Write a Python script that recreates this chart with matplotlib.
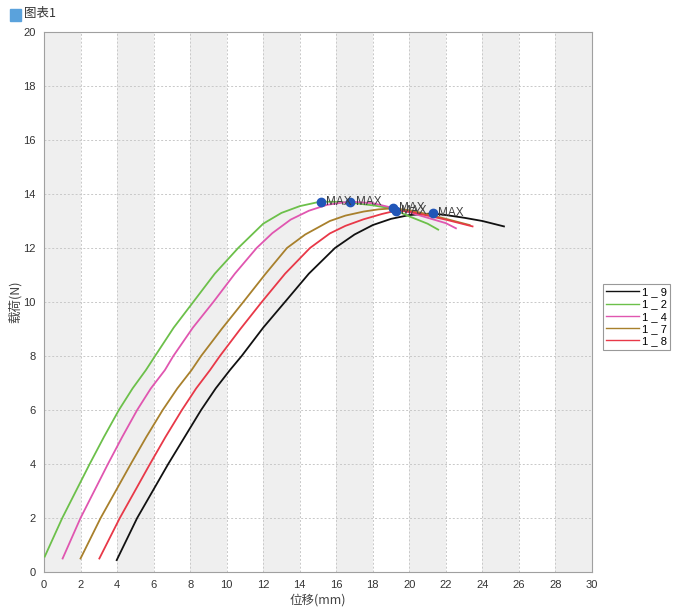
import numpy as np
import matplotlib.pyplot as plt

# Series data (displacement mm, load N)
labels = ["1 _ 9", "1 _ 2", "1 _ 4", "1 _ 7", "1 _ 8"]
colors = ["#111111", "#6cc04a", "#e056b0", "#a8802c", "#e83848"]

x_19 = [3.98, 5.1, 6.8, 7.7, 8.6, 9.4, 10.18, 10.82, 12.0, 13.19, 14.5, 15.93, 17.0, 18.0, 19.0, 20.0, 21.27, 22.0, 23.0, 24.0, 25.18]
y_19 = [0.44, 2.0, 4.0, 5.0, 6.0, 6.8, 7.48, 8.0, 9.05, 10.0, 11.05, 12.0, 12.5, 12.85, 13.08, 13.22, 13.28, 13.22, 13.12, 13.0, 12.8]

x_12 = [0.04, 1.0, 2.5, 3.28, 4.1, 4.85, 5.58, 6.08, 7.1, 8.17, 9.35, 10.63, 12.0, 13.0, 14.0, 15.14, 16.0, 17.0, 18.0, 19.0, 20.0, 21.0, 21.58]
y_12 = [0.57, 2.0, 4.0, 5.0, 6.0, 6.8, 7.48, 8.0, 9.05, 10.0, 11.05, 12.0, 12.9, 13.3, 13.55, 13.72, 13.71, 13.66, 13.58, 13.47, 13.17, 12.9, 12.68]

x_14 = [1.02, 2.0, 3.5, 4.28, 5.1, 5.85, 6.62, 7.08, 8.15, 9.27, 10.45, 11.64, 12.5, 13.5, 14.5, 15.5, 16.75, 18.0, 19.0, 20.0, 21.0, 22.0, 22.55]
y_14 = [0.5, 2.0, 4.0, 5.0, 6.0, 6.8, 7.48, 8.0, 9.05, 10.0, 11.05, 12.0, 12.55, 13.05, 13.38, 13.6, 13.72, 13.66, 13.5, 13.32, 13.12, 12.92, 12.73]

x_17 = [2.0, 3.1, 4.75, 5.6, 6.5, 7.3, 8.08, 8.6, 9.75, 10.91, 12.1, 13.3, 14.3, 15.65, 16.5, 17.5, 18.3, 19.12, 20.0, 21.0, 22.0, 23.3]
y_17 = [0.5, 2.0, 4.0, 5.0, 6.0, 6.8, 7.48, 8.0, 9.02, 10.0, 11.02, 12.0, 12.5, 13.0, 13.2, 13.35, 13.43, 13.47, 13.4, 13.25, 13.08, 12.85]

x_18 = [3.03, 4.15, 5.8, 6.65, 7.55, 8.33, 9.09, 9.63, 10.75, 11.92, 13.2, 14.56, 15.65, 16.5, 17.48, 18.5, 19.25, 20.0, 21.0, 22.0, 23.46]
y_18 = [0.5, 2.0, 4.0, 5.0, 6.0, 6.8, 7.48, 8.0, 9.0, 10.0, 11.05, 12.0, 12.54, 12.82, 13.06, 13.26, 13.38, 13.35, 13.2, 13.05, 12.8]

series_x = [x_19, x_12, x_14, x_17, x_18]
series_y = [y_19, y_12, y_14, y_17, y_18]

plt.rcParams['font.family'] = ['Liberation Sans', 'Noto Sans CJK SC', 'DejaVu Sans']

fig = plt.figure(figsize=(6.73, 6.08), dpi=100)
ax = fig.add_axes([44 / 673, 36 / 608, 548 / 673, 540 / 608])

# alternating background bands
for b in range(0, 30, 4):
    ax.axvspan(b, b + 2, color="#efefef", zorder=0, lw=0)

ax.set_xlim(0, 30)
ax.set_ylim(0, 20)
ax.set_xticks(range(0, 31, 2))
ax.set_yticks(range(0, 21, 2))
ax.grid(True, color="#c8c8c8", linestyle=(0, (2, 2)), linewidth=0.7, zorder=1)
ax.tick_params(labelsize=8, colors="#333333", length=0, pad=6)
for s in ax.spines.values():
    s.set_color("#a0a0a0")

lines = []
for xs, ys, c, lab in zip(series_x, series_y, colors, labels):
    ln, = ax.plot(xs, ys, color=c, lw=1.3, label=lab, zorder=3,
                  solid_joinstyle="round")
    lines.append(ln)

# max markers
for xs, ys in zip(series_x, series_y):
    i = int(np.argmax(ys))
    ax.plot(xs[i], ys[i], 'o', color="#2156b8", ms=6, zorder=5)
    ax.annotate("MAX", (xs[i], ys[i]), xytext=(4, 0), textcoords="offset points",
                va="center", ha="left", fontsize=8.5, color="#404040", zorder=6)

ax.set_xlabel("位移(mm)", fontsize=9, color="#444444", labelpad=2,
              family=['Noto Sans CJK SC', 'DejaVu Sans'])
ax.set_ylabel("载荷(N)", fontsize=9, color="#444444",
              family=['Noto Sans CJK SC', 'DejaVu Sans'])
ax.yaxis.set_label_coords(-22 / 548, 0.5)

leg = fig.legend(handles=lines, loc="upper left", bbox_to_anchor=(603 / 673, 1 - 284 / 608),
                 fontsize=8, frameon=True, fancybox=False, edgecolor="#808080",
                 handlelength=2.9, handletextpad=0.3, labelspacing=0.2,
                 borderpad=0.3, borderaxespad=0)
leg.get_frame().set_linewidth(0.8)
for l in leg.get_lines():
    l.set_linewidth(1.0)

# title with blue square icon
fig.patches.append(plt.Rectangle((10 / 673, 1 - 21 / 608), 11 / 673, 12 / 608,
                                 transform=fig.transFigure, color="#5aa2dc"))
fig.text(24 / 673, 1 - 14 / 608, "图表1", fontsize=9, color="#333333", va="center",
         family=['Noto Sans CJK SC', 'DejaVu Sans'])

fig.savefig("out.png", dpi=100)
